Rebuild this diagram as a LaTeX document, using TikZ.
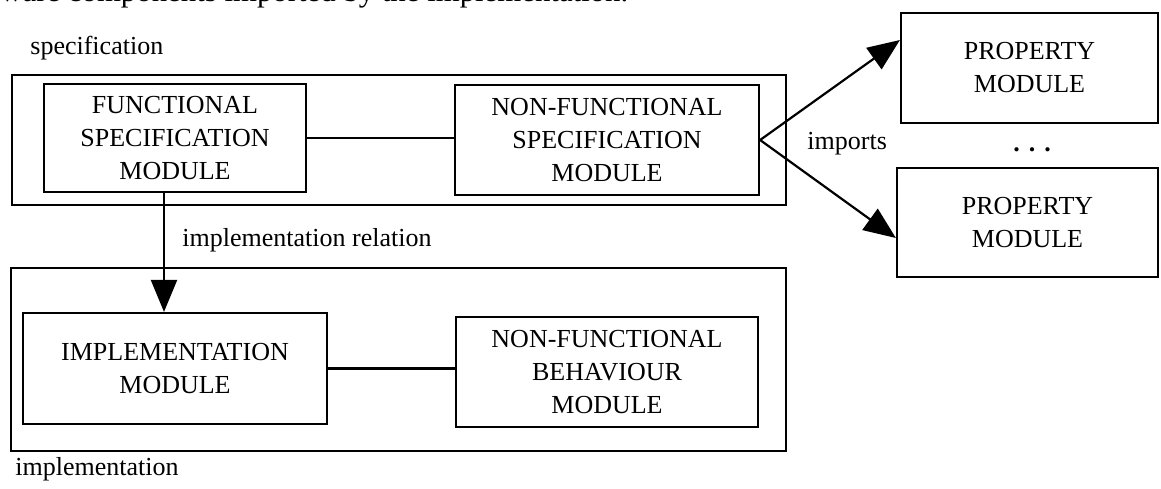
\documentclass[tikz,border=0pt]{standalone}
\usepackage{fontspec}
\setmainfont{Liberation Serif}
\usetikzlibrary{arrows.meta}

\begin{document}
\begin{tikzpicture}[x=0.5pt,y=-0.5pt,
  every node/.style={font=\fontsize{13}{16.5}\selectfont,align=center,inner sep=0pt},
  frame/.style={draw,line width=1.1pt},
  module/.style={draw,line width=1.1pt},
  link/.style={line width=1.1pt},
  imp/.style={-{Triangle[length=16pt,width=13pt]},line width=1.1pt}]
  \useasboundingbox (0,0) rectangle (1161,488);
  \node[anchor=base west,font=\fontsize{15.4}{18}\selectfont] (caption) at (0,1)
    {ware components imported by the implementation.};
  % specification part
  \node[anchor=base west] (speclabel) at (30,54) {specification};
  \node[frame,minimum width=387pt,minimum height=65pt] (spec) at (399,140) {};
  \node[module,minimum width=131pt,minimum height=54pt] (fsm) at (175,138)
    {FUNCTIONAL\\SPECIFICATION\\MODULE};
  \node[module,minimum width=152pt,minimum height=55pt] (nfsm) at (607,140)
    {NON-FUNCTIONAL\\SPECIFICATION\\MODULE};
  \draw[link] (fsm.east) -- (fsm.east -| nfsm.west);
  % implementation part
  \node[frame,minimum width=387.5pt,minimum height=91.5pt] (impl) at (398.5,359.5) {};
  \node[anchor=base west] (impllabel) at (15,475) {implementation};
  \node[module,minimum width=152pt,minimum height=55.5pt] (im) at (175,368.5)
    {IMPLEMENTATION\\MODULE};
  \node[module,minimum width=151pt,minimum height=55pt] (nfbm) at (607,372)
    {NON-FUNCTIONAL\\BEHAVIOUR\\MODULE};
  \draw[link] (im.east) -- (im.east -| nfbm.west);
  \draw[imp] ([xshift=-5.5pt]fsm.south) -- ([xshift=-5.5pt]fsm.south |- im.north);
  \node[anchor=base west] (rel) at (182,246) {implementation relation};
  % imported property modules
  \node[module,minimum width=128.5pt,minimum height=55pt] (pm1) at (1029.5,68)
    {PROPERTY\\MODULE};
  \node[module,minimum width=130.5pt,minimum height=54.5pt] (pm2) at (1027.5,222.5)
    {PROPERTY\\MODULE};
  \node (dots) at (1032,150) {\textbf{.\hspace{4.5pt}.\hspace{4.5pt}.}};
  \node[anchor=base west] (imports) at (807,149) {imports};
  \draw[imp] (nfsm.east) -- ([yshift=14pt]pm1.west);
  \draw[imp] (nfsm.east) -- ([yshift=-7.75pt]pm2.west);
\end{tikzpicture}
\end{document}
